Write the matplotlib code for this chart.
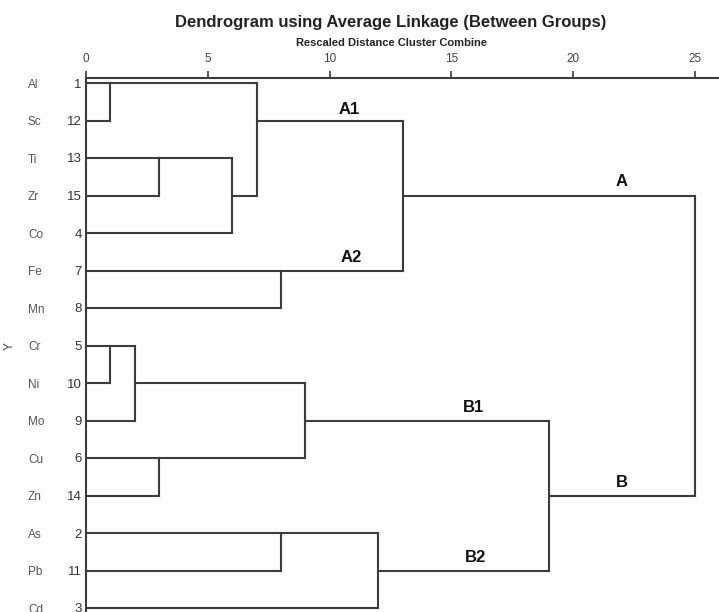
import numpy as np
import matplotlib
matplotlib.use("Agg")
import matplotlib.pyplot as plt
import matplotlib.transforms as mtransforms

# ---- data ----
element_names = ['Al', 'Sc', 'Ti', 'Zr', 'Co', 'Fe', 'Mn', 'Cr', 'Ni', 'Mo', 'Cu', 'Zn', 'As', 'Pb', 'Cd']
case_numbers = [1, 12, 13, 15, 4, 7, 8, 5, 10, 9, 6, 14, 2, 11, 3]
# merges: cluster indices (leaves 0..14 in display order, new clusters numbered from 15)
merge_a = [0, 2, 16, 15, 5, 18, 7, 21, 10, 22, 12, 25, 24, 20]
merge_b = [1, 3, 4, 17, 6, 19, 8, 9, 11, 23, 13, 14, 26, 27]
merge_height = [1, 3, 6, 7, 8, 13, 1, 2, 3, 9, 8, 12, 19, 25]
group_labels = ['A1', 'A2', 'A', 'B1', 'B', 'B2']
group_label_x = [10.8, 10.9, 22.0, 15.9, 22.0, 16.0]
group_label_row = [0.82, 4.78, 2.76, 8.78, 10.78, 12.78]
x_ticks = [0, 5, 10, 15, 20, 25]

plt.rcParams['font.family'] = ['Liberation Sans', 'DejaVu Sans']

W, H = 719, 612
fig = plt.figure(figsize=(W / 100, H / 100), dpi=100)

left_px, top_px = 86, 78
px_per_unit = 24.36
row0_px, row_step = 83, 37.5
x_right = (W - left_px) / px_per_unit
row_top = (top_px - row0_px) / row_step
row_bot = (H - row0_px) / row_step

ax = fig.add_axes([left_px / W, 0, 1 - left_px / W, 1 - top_px / H])
ax.set_xlim(0, x_right)
ax.set_ylim(row_bot, row_top)

line_kw = dict(color='#3c3c3c', lw=1.5, solid_capstyle='projecting')

n = len(element_names)
rows = {i: i for i in range(n)}
heights = {i: 0.0 for i in range(n)}
for k, (a, b, h) in enumerate(zip(merge_a, merge_b, merge_height)):
    ra, rb = rows[a], rows[b]
    ax.plot([h, h], [ra, rb], **line_kw)
    ax.plot([heights[a], h], [ra, ra], **line_kw)
    ax.plot([heights[b], h], [rb, rb], **line_kw)
    new = n + k
    rows[new] = (ra + rb) // 2
    heights[new] = h

for lab, gx, gy in zip(group_labels, group_label_x, group_label_row):
    ax.text(gx, gy, lab, fontsize=12, fontweight='bold', ha='center', va='baseline', color='#111111')

# axes styling
for s in ['right', 'bottom']:
    ax.spines[s].set_visible(False)
for s in ['top', 'left']:
    ax.spines[s].set_color('#3c3c3c')
    ax.spines[s].set_linewidth(1.5)

ax.xaxis.tick_top()
ax.set_xticks(x_ticks)
ax.set_xticklabels([str(t) for t in x_ticks], fontsize=8.5, color='#444444')
ax.tick_params(axis='x', direction='out', length=5, width=1.2, color='#3c3c3c', pad=4)

ax.set_yticks(range(n))
ax.set_yticklabels([str(c) for c in case_numbers], fontsize=9.5, color='#333333')
ax.tick_params(axis='y', length=0, pad=3)

trans = mtransforms.blended_transform_factory(fig.transFigure, ax.transData)
for i, name in enumerate(element_names):
    ax.text(28 / W, i + 0.05, name, transform=trans, fontsize=8.5, color='#555555',
            ha='left', va='center', clip_on=False)

fig.text(10 / W, 1 - 346 / H, 'Y', rotation=90, fontsize=8.5, color='#444444', ha='center', va='center')

fig.text(391 / W, 1 - 22 / H, 'Dendrogram using Average Linkage (Between Groups)',
         fontsize=12, fontweight='bold', ha='center', va='center', color='#222222')
fig.text(391 / W, 1 - 43 / H, 'Rescaled Distance Cluster Combine',
         fontsize=8, fontweight='bold', ha='center', va='center', color='#222222')

fig.savefig('out.png', dpi=100)
